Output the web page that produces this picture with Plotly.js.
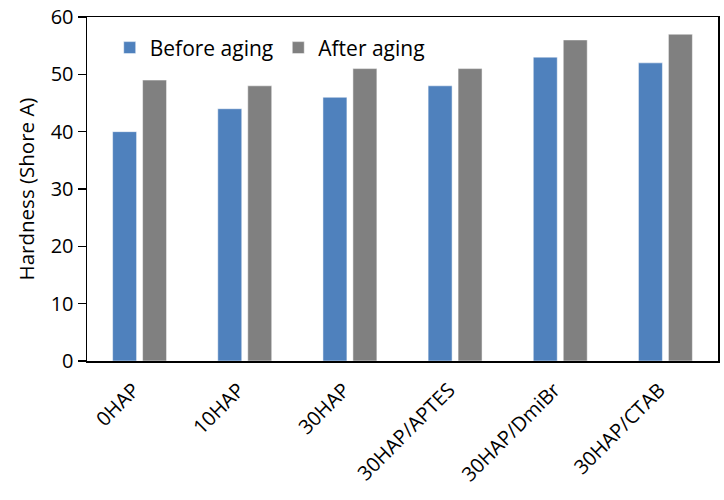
<!DOCTYPE html>
<html><head><meta charset="utf-8">
<script src="https://cdn.plot.ly/plotly-3.0.1.min.js"></script>
<style>body{margin:0;background:#fff}#chart{width:724px;height:500px}</style>
</head><body><div id="chart"></div>
<script>
const categories = ["0HAP","10HAP","30HAP","30HAP/APTES","30HAP/DmiBr","30HAP/CTAB"];
const beforeAging = [40,44,46,48,53,52];
const afterAging = [49,48,51,51,56,57];
const yTicks = [0,10,20,30,40,50,60];

const font = "Open Sans, Liberation Sans, sans-serif";
const data = [
  {type:"bar", name:"Before aging", x:categories, y:beforeAging, marker:{color:"#4F81BD", line:{color:"#ffffff", width:0.5}}},
  {type:"bar", name:"After aging", x:categories, y:afterAging, marker:{color:"#808080", line:{color:"#ffffff", width:0.5}}}
];
const layout = {
  width:724, height:500,
  margin:{l:87, r:6, t:17, b:139},
  paper_bgcolor:"#fff", plot_bgcolor:"#fff",
  font:{family:font, color:"#000"},
  barmode:"group", bargap:0.43, bargroupgap:0.2,
  showlegend:true,
  legend:{orientation:"h", x:0.036, y:0.91, xanchor:"left", yanchor:"middle", font:{size:21, family:font}, itemwidth:30, tracegroupgap:0, bgcolor:"rgba(0,0,0,0)"},
  xaxis:{tickangle:-45, tickfont:{size:20, family:font}, ticklabelstandoff:8, ticklabelshift:-6, showline:true, linecolor:"#000", linewidth:1.5, mirror:true, ticks:"", showgrid:false},
  yaxis:{range:[0,60], tickvals:yTicks, ticks:"outside", ticklen:8, tickwidth:1.2, tickcolor:"#000", tickfont:{size:20, family:font}, showline:true, linecolor:"#000", linewidth:1.5, mirror:true, showgrid:false, zeroline:false,
    title:{text:"Hardness (Shore A)", font:{size:20.5, family:font}, standoff:10}}
};
Plotly.newPlot("chart", data, layout, {displayModeBar:false, staticPlot:true});
</script>
</body></html>
